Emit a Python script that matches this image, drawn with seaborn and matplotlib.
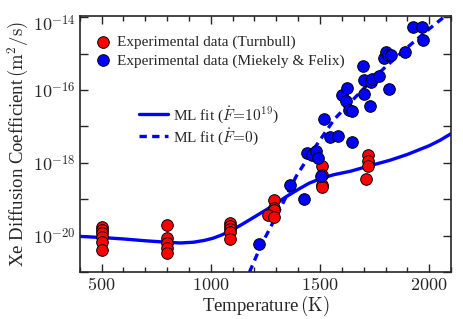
import numpy as np
import pandas as pd
import seaborn as sns
import matplotlib
matplotlib.use('Agg')
import matplotlib.pyplot as plt
from matplotlib import ticker
from matplotlib.transforms import ScaledTranslation

# data (log10 of D in m^2/s)
turnbull_T = [500, 500, 500, 500, 500, 500,
              800, 800, 800, 800, 800,
              1090, 1090, 1090, 1090, 1090,
              1290, 1290, 1290, 1260, 1290,
              1510, 1510, 1510, 1510,
              1720, 1720, 1720, 1710]
turnbull_logD = [-19.75, -19.84, -19.92, -20.03, -20.16, -20.38,
                 -19.72, -20.05, -20.19, -20.33, -20.47,
                 -19.66, -19.74, -19.82, -19.90, -20.09,
                 -19.01, -19.24, -19.30, -19.44, -19.49,
                 -18.10, -18.33, -18.60, -18.67,
                 -17.78, -17.96, -18.10, -18.45]

felix_T = [1222, 1361, 1425, 1503, 1440, 1463, 1482, 1491, 1547, 1581, 1645,
           1517, 1601, 1619, 1624, 1631, 1647, 1700, 1731, 1815, 1698, 1703,
           1734, 1738, 1772, 1795, 1800, 1810, 1826, 1891, 1928, 1968, 1974]
felix_logD = [-20.23, -18.62, -18.99, -18.36, -17.72, -17.78, -17.67, -17.88,
              -17.30, -17.25, -17.42, -16.80, -16.14, -16.29, -15.94, -16.55,
              -16.58, -16.12, -16.44, -15.97, -15.33, -15.73, -15.77, -15.70,
              -15.62, -15.11, -14.97, -15.05, -15.03, -14.97, -14.28, -14.26,
              -14.63]

# ML fit curves
fit_T = [400, 500, 600, 700, 800, 860, 920, 970, 1010, 1050, 1090, 1140,
         1190, 1270, 1345, 1400, 1450, 1500, 1560, 1640, 1740, 1820, 1900,
         2000, 2050, 2100]
fit_logD = [-20.02, -20.05, -20.09, -20.14, -20.18, -20.20, -20.18, -20.13,
            -20.07, -19.98, -19.87, -19.70, -19.52, -19.23, -18.93, -18.73,
            -18.56, -18.44, -18.33, -18.23, -18.06, -17.93, -17.77, -17.53,
            -17.38, -17.20]

fit0_T = [1177, 1229, 1321, 1390, 1460, 1520, 1566, 1665, 1772, 1894, 2009, 2094]
fit0_logD = [-21.0, -20.28, -19.22, -18.38, -17.72, -17.20, -16.80, -16.18,
             -15.52, -14.86, -14.28, -13.87]

y_decades = [-21, -20, -19, -18, -17, -16, -15, -14]

turnbull = pd.DataFrame({'T': turnbull_T, 'D': 10.0 ** np.array(turnbull_logD)})
felix = pd.DataFrame({'T': felix_T, 'D': 10.0 ** np.array(felix_logD)})
fit = pd.DataFrame({'T': fit_T, 'D': 10.0 ** np.array(fit_logD)})
fit0 = pd.DataFrame({'T': fit0_T, 'D': 10.0 ** np.array(fit0_logD)})

sns.set_style('ticks')
plt.rcParams['font.family'] = ['Liberation Serif', 'DejaVu Serif']
plt.rcParams['mathtext.fontset'] = 'cm'
plt.rcParams['xtick.direction'] = 'in'
plt.rcParams['ytick.direction'] = 'in'

fig, ax = plt.subplots(figsize=(4.64, 3.19), dpi=100)
fig.subplots_adjust(left=0.172, right=0.972, top=0.951, bottom=0.147)

# fits
sns.lineplot(data=fit, x='T', y='D', color='#0000ff', lw=2.4, sort=False,
             estimator=None, ax=ax, label=r'ML fit ($\dot{F}\!=\!10^{19}$)', zorder=2)
sns.lineplot(data=fit0, x='T', y='D', color='#0000ff', lw=2.4, sort=False,
             estimator=None, ax=ax, label=r'ML fit ($\dot{F}\!=\!0$)', zorder=2)
ax.lines[1].set_dashes([2.2, 1.6])

# experiments
sns.scatterplot(data=turnbull, x='T', y='D', color='#ff0000', s=70,
                edgecolor='black', linewidth=0.7, ax=ax,
                label='Experimental data (Turnbull)', zorder=3)
sns.scatterplot(data=felix, x='T', y='D', color='#0000ff', s=70,
                edgecolor='black', linewidth=0.7, ax=ax,
                label='Experimental data (Miekely & Felix)', zorder=3)

ax.set_yscale('log')
ax.set_xlim(400, 2100)
ax.set_ylim(1e-21, 1.1e-14)

ax.xaxis.set_major_locator(ticker.MultipleLocator(500))
ax.xaxis.set_minor_locator(ticker.MultipleLocator(100))
ax.xaxis.set_major_formatter(ticker.FuncFormatter(lambda v, p: r'$%d$' % v))
ax.yaxis.set_major_locator(ticker.FixedLocator([10.0 ** e for e in y_decades]))
ax.yaxis.set_minor_locator(ticker.NullLocator())
ax.yaxis.set_major_formatter(ticker.FixedFormatter(
    [r'$10^{%d}$' % e if e % 2 == 0 else '' for e in y_decades]))

ax.tick_params(which='both', top=True, right=True, labelsize=13, width=1.0)
ax.tick_params(which='major', length=5.5)
ax.tick_params(which='minor', length=3.5)
ax.tick_params(axis='y', pad=3)
for s in ax.spines.values():
    s.set_linewidth(1.2)

ax.set_xlabel(r'Temperature$\,(\mathrm{K})$', fontsize=13.5, labelpad=0)
ax.set_ylabel(r'Xe Diffusion Coefficient$\,(\mathrm{m}^2/\mathrm{s})$', fontsize=13.5, labelpad=1)

handles, labels = ax.get_legend_handles_labels()
leg1 = ax.legend(handles[2:], labels[2:], loc='upper left', frameon=False,
                 fontsize=11, handlelength=1.2, handletextpad=0.3,
                 borderaxespad=0.0, labelspacing=0.3,
                 bbox_to_anchor=(0.022, 0.947))
ax.add_artist(leg1)
ax.legend(handles[:2], labels[:2], loc='upper left', frameon=False,
          fontsize=11, handlelength=1.9, handletextpad=0.33,
          labelspacing=0.08, borderaxespad=0.0, bbox_to_anchor=(0.142, 0.68))

# top label sits a little lower in the reference
fig.canvas.draw()
for lab in ax.get_yticklabels():
    if '-14' in lab.get_text():
        lab.set_transform(lab.get_transform() +
                          ScaledTranslation(0, -4 / 72, fig.dpi_scale_trans))

fig.savefig('out.png', dpi=100)
